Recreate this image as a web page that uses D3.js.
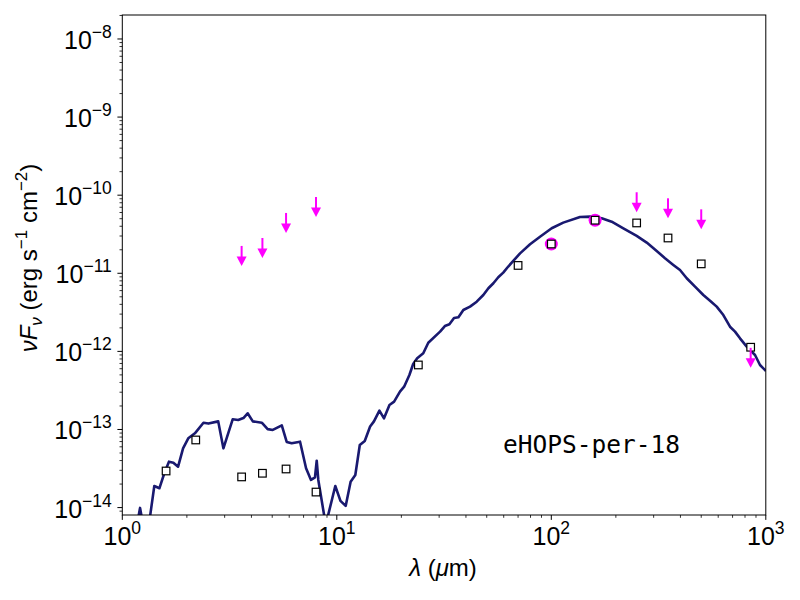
<!DOCTYPE html>
<html><head><meta charset="utf-8">
<script src="https://cdn.jsdelivr.net/npm/d3@7"></script>
<style>body{margin:0;background:#fff}</style>
</head><body>
<svg id="chart" width="800" height="600"></svg>
<script>
const modelWavelength = [1.16,1.21,1.25,1.33,1.41,1.49,1.57,1.65,1.73,1.82,1.92,2.03,2.18,2.39,2.52,2.80,2.96,3.27,3.47,3.67,3.84,4.06,4.47,4.76,5.03,5.54,5.84,6.16,6.74,7.19,7.58,7.91,8.06,8.20,8.88,9.84,10.4,11.0,11.6,12.2,12.8,13.5,14.3,14.9,15.8,16.6,17.6,18.5,19.7,20.6,21.8,22.7,23.7,25.3,26.7,30.3,31.9,33.5,35.2,36.9,38.9,41.8,44.9,48.2,50.9,53.7,56.6,59.7,63.0,66.5,71.5,79.6,88.6,100.4,113.7,136.1,151.5,171.8,191.2,216.7,250.1,278.5,310.0,338.9,370.6,398.1,427.9,467.8,511.3,549.6,590.3,633.9,681.0,718.6,758.2,814.7,890.8,939.7,1002];
const modelFlux = [5.2e-15,9.9e-15,6.0e-15,6.0e-15,1.89e-14,1.77e-14,2.75e-14,3.87e-14,3.76e-14,3.34e-14,5.74e-14,7.71e-14,8.93e-14,1.22e-13,1.19e-13,1.27e-13,5.74e-14,1.35e-13,1.32e-13,1.40e-13,1.61e-13,1.27e-13,1.22e-13,1.01e-13,9.86e-14,1.13e-13,6.92e-14,6.65e-14,6.98e-14,3.19e-14,2.26e-14,2.44e-14,3.98e-14,2.26e-14,6.0e-15,1.89e-14,1.22e-14,1.05e-14,2.14e-14,2.61e-14,6.33e-14,7.13e-14,1.09e-13,1.27e-13,1.74e-13,1.39e-13,2.06e-13,2.27e-13,3.05e-13,3.53e-13,4.99e-13,6.90e-13,8.17e-13,9.46e-13,1.29e-12,1.79e-12,2.11e-12,2.22e-12,2.68e-12,2.73e-12,3.39e-12,3.74e-12,4.33e-12,5.27e-12,6.43e-12,7.45e-12,8.89e-12,1.02e-11,1.22e-11,1.44e-11,1.80e-11,2.35e-11,2.94e-11,3.77e-11,4.45e-11,5.26e-11,5.31e-11,5.06e-11,4.58e-11,3.77e-11,3.01e-11,2.47e-11,1.93e-11,1.56e-11,1.28e-11,1.10e-11,8.63e-12,6.73e-12,5.27e-12,4.46e-12,3.74e-12,2.92e-12,2.07e-12,1.79e-12,1.47e-12,1.15e-12,8.99e-13,6.70e-13,5.61e-13];

const obsWavelength = [1.6, 2.2, 3.6, 4.5, 5.8, 8.0, 24, 70, 100, 160, 250, 350, 500, 850];
const obsFlux = [2.94e-14, 7.34e-14, 2.47e-14, 2.75e-14, 3.12e-14, 1.58e-14, 6.70e-13, 1.26e-11, 2.37e-11, 4.78e-11, 4.41e-11, 2.83e-11, 1.32e-11, 1.13e-12];

const limitWavelength = [3.6, 4.5, 5.8, 8.0, 250, 350, 500, 850];
const limitFlux = [2.24e-11, 2.83e-11, 5.92e-11, 9.48e-11, 1.09e-10, 9.12e-11, 6.59e-11, 1.11e-12];

const circleWavelength = [100, 160];
const circleFlux = [2.37e-11, 4.78e-11];

const xTickExponents = [0, 1, 2, 3];
const yTickExponents = [-14, -13, -12, -11, -10, -9, -8];
const sourceLabel = "eHOPS-per-18";

const margin = {left: 122.3, top: 15, right: 800 - 765.8, bottom: 600 - 515};
const W = 800, H = 600;
const iw = W - margin.left - margin.right, ih = H - margin.top - margin.bottom;

const svg = d3.select("#chart");
const g = svg.append("g").attr("transform", `translate(${margin.left},${margin.top})`);

const x = d3.scaleLog().domain([1, 1000]).range([0, iw]);
const y = d3.scaleLog().domain([Math.pow(10, -14.095), Math.pow(10, -7.693)]).range([ih, 0]);

svg.append("defs").append("clipPath").attr("id", "clip")
  .append("rect").attr("width", iw).attr("height", ih);

const font = "'Liberation Sans', Arial, Helvetica, sans-serif";

// model line
const model = modelWavelength.map((w, i) => [w, modelFlux[i]]);
g.append("path").datum(model)
  .attr("clip-path", "url(#clip)")
  .attr("fill", "none").attr("stroke", "#191970").attr("stroke-width", 2.6)
  .attr("stroke-linejoin", "round")
  .attr("d", d3.line().x(d => x(d[0])).y(d => y(d[1])));

// magenta circles
g.selectAll("circle.mk").data(circleWavelength.map((w, i) => [w, circleFlux[i]]))
  .enter().append("circle")
  .attr("cx", d => x(d[0])).attr("cy", d => y(d[1])).attr("r", 6.5)
  .attr("fill", "#ff00ff");

// squares
const sq = 7.6;
g.selectAll("rect.obs").data(obsWavelength.map((w, i) => [w, obsFlux[i]]))
  .enter().append("rect")
  .attr("x", d => x(d[0]) - sq / 2).attr("y", d => y(d[1]) - sq / 2)
  .attr("width", sq).attr("height", sq)
  .attr("fill", "#fff").attr("stroke", "#000").attr("stroke-width", 1.2);

// upper limits
const lims = g.selectAll("g.lim").data(limitWavelength.map((w, i) => [w, limitFlux[i]]))
  .enter().append("g")
  .attr("transform", d => `translate(${x(d[0])},${y(d[1])})`);
lims.append("line").attr("x1", 0).attr("x2", 0).attr("y1", 0).attr("y2", 12)
  .attr("stroke", "#ff00ff").attr("stroke-width", 2);
lims.append("path").attr("d", "M-5,10.5L5,10.5L0,20Z").attr("fill", "#ff00ff");

// frame
g.append("rect").attr("width", iw).attr("height", ih)
  .attr("fill", "none").attr("stroke", "#000").attr("stroke-width", 1);

// x ticks
const xMinor = [];
for (let e = 0; e < 3; e++) for (let k = 2; k <= 9; k++) xMinor.push(k * Math.pow(10, e));
g.selectAll("line.xmin").data(xMinor).enter().append("line")
  .attr("x1", d => x(d)).attr("x2", d => x(d)).attr("y1", ih).attr("y2", ih + 2.8)
  .attr("stroke", "#000").attr("stroke-width", 0.8);
g.selectAll("line.xmaj").data(xTickExponents).enter().append("line")
  .attr("x1", d => x(Math.pow(10, d))).attr("x2", d => x(Math.pow(10, d)))
  .attr("y1", ih).attr("y2", ih + 4.9)
  .attr("stroke", "#000").attr("stroke-width", 1);
const xl = g.selectAll("text.xl").data(xTickExponents).enter().append("text")
  .attr("x", d => x(Math.pow(10, d))).attr("y", ih + 30)
  .attr("text-anchor", "middle").attr("font-family", font).attr("font-size", 25);
xl.append("tspan").text("10");
xl.append("tspan").attr("dy", -11).attr("font-size", 17.5).text(d => String(d).replace("-", "\u2212"));

// y ticks
const yMinor = [];
for (let e = -15; e < -7; e++) for (let k = 2; k <= 9; k++) {
  const v = k * Math.pow(10, e);
  if (v >= y.domain()[0] && v <= y.domain()[1]) yMinor.push(v);
}
g.selectAll("line.ymin").data(yMinor).enter().append("line")
  .attr("x1", -2.8).attr("x2", 0).attr("y1", d => y(d)).attr("y2", d => y(d))
  .attr("stroke", "#000").attr("stroke-width", 0.8);
g.selectAll("line.ymaj").data(yTickExponents).enter().append("line")
  .attr("x1", -4.9).attr("x2", 0)
  .attr("y1", d => y(Math.pow(10, d))).attr("y2", d => y(Math.pow(10, d)))
  .attr("stroke", "#000").attr("stroke-width", 1);
const yl = g.selectAll("text.yl").data(yTickExponents).enter().append("text")
  .attr("x", -10.5).attr("y", d => y(Math.pow(10, d)) + 10)
  .attr("text-anchor", "end").attr("font-family", font).attr("font-size", 25);
yl.append("tspan").text("10");
yl.append("tspan").attr("dy", -11).attr("font-size", 17.5).text(d => String(d).replace("-", "\u2212"));

// source label
g.append("text").attr("x", 503 - margin.left).attr("y", 453 - margin.top)
  .attr("font-family", "'DejaVu Sans Mono', monospace").attr("font-size", 24.5)
  .attr("fill", "#000").text(sourceLabel);

// x label
const xlab = svg.append("text").attr("x", 443).attr("y", 576)
  .attr("text-anchor", "middle").attr("font-family", font).attr("font-size", 24);
xlab.append("tspan").attr("font-style", "italic").text("\u03bb");
xlab.append("tspan").text(" (");
xlab.append("tspan").attr("font-style", "italic").text("\u03bc");
xlab.append("tspan").text("m)");

// y label
const ylab = svg.append("text").attr("transform", "translate(37,258) rotate(-90)")
  .attr("text-anchor", "middle").attr("font-family", font).attr("font-size", 24);
ylab.append("tspan").attr("font-style", "italic").text("\u03bdF");
ylab.append("tspan").attr("font-style", "italic").attr("font-size", 17).attr("dy", 5).text("\u03bd");
ylab.append("tspan").attr("dy", -5).text(" (erg s");
ylab.append("tspan").attr("font-size", 17).attr("dy", -10).text("\u22121");
ylab.append("tspan").attr("dy", 10).text(" cm");
ylab.append("tspan").attr("font-size", 17).attr("dy", -10).text("\u22122");
ylab.append("tspan").attr("dy", 10).text(")");
</script>
</body></html>
